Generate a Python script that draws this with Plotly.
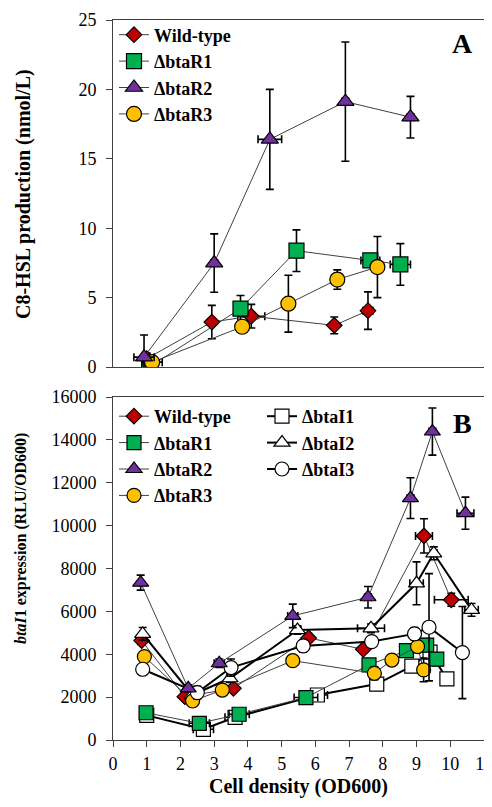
import plotly.graph_objects as go

# ---------------- Panel A data: C8-HSL production (nmol/L) ----------------
A_wt_x = [1.0, 2.93, 4.1, 6.56, 7.56]
A_wt_y = [0.6, 3.24, 3.66, 3.0, 4.06]
A_wt_ey = [0.4, 1.2, 0.85, 0.6, 1.35]
A_wt_ex = [0.1, 0.1, 0.4, 0.1, 0.15]

A_r1_x = [1.07, 3.78, 5.44, 7.63, 8.52]
A_r1_y = [0.0, 4.2, 8.38, 7.68, 7.39]
A_r1_ey = [0.3, 0.95, 1.5, 0.3, 1.5]
A_r1_ex = [0.1, 0.1, 0.1, 0.28, 0.3]

A_r2_x = [0.92, 3.0, 4.65, 6.89, 8.82]
A_r2_y = [0.71, 7.49, 16.4, 19.12, 18.0]
A_r2_ey = [1.6, 2.1, 3.6, 4.3, 1.5]
A_r2_ex = [0.3, 0.1, 0.35, 0.1, 0.1]

A_r3_x = [1.16, 3.83, 5.2, 6.65, 7.84]
A_r3_y = [0.35, 2.9, 4.56, 6.3, 7.2]
A_r3_ey = [0.3, 0.3, 2.05, 0.7, 2.2]
A_r3_ex = [0.3, 0.1, 0.1, 0.1, 0.1]

# ---------------- Panel B data: btaI1 expression (RLU/OD600) ----------------
B_wt_x = [0.85, 2.13, 3.57, 5.8, 7.42, 9.22, 10.03]
B_wt_y = [4640, 2020, 2410, 4760, 4230, 9520, 6540]
B_wt_ey = [200, 150, 150, 200, 150, 800, 300]
B_wt_ex = [0.05, 0.05, 0.1, 0.1, 0.1, 0.25, 0.5]

B_r1_x = [0.98, 2.56, 3.74, 5.72, 7.59, 8.7, 9.3, 9.6]
B_r1_y = [1270, 780, 1200, 1980, 3500, 4170, 4430, 3770]
B_r1_ey = [100, 100, 100, 150, 200, 200, 300, 300]
B_r1_ex = [0.05, 0.3, 0.3, 0.35, 0.1, 0.1, 0.1, 0.1]

B_r2_x = [0.82, 2.23, 3.15, 5.33, 7.56, 8.82, 9.47, 10.45]
B_r2_y = [7340, 2410, 3580, 5790, 6660, 11280, 14390, 10580]
B_r2_ey = [350, 150, 200, 550, 500, 950, 1100, 750]
B_r2_ex = [0.05, 0.1, 0.15, 0.15, 0.1, 0.1, 0.1, 0.25]

B_r3_x = [0.93, 2.36, 3.24, 5.33, 7.75, 8.27, 9.03, 9.21]
B_r3_y = [3890, 1820, 2330, 3700, 3110, 3730, 4360, 3270]
B_r3_ey = [150, 150, 150, 150, 300, 150, 200, 550]
B_r3_ex = [0.05, 0.1, 0.1, 0.1, 0.1, 0.1, 0.1, 0.1]

B_i1_x = [1.0, 2.68, 3.62, 6.06, 7.82, 8.86, 9.4, 9.9]
B_i1_y = [1150, 500, 1060, 2100, 2610, 3450, 4100, 2850]
B_i1_ey = [100, 150, 150, 200, 150, 200, 300, 150]
B_i1_ex = [0.05, 0.3, 0.3, 0.3, 0.1, 0.1, 0.1, 0.1]

B_i2_x = [0.88, 2.35, 3.47, 5.47, 7.65, 9.0, 9.51, 10.63]
B_i2_y = [4950, 2100, 2880, 5130, 5210, 7310, 8710, 6070]
B_i2_ey = [300, 150, 200, 200, 200, 1000, 300, 300]
B_i2_ex = [0.05, 0.1, 0.1, 0.1, 0.4, 0.2, 0.1, 0.2]

B_i3_x = [0.88, 2.5, 3.5, 5.64, 7.67, 8.94, 9.37, 10.36]
B_i3_y = [3300, 2210, 3380, 4390, 4590, 4950, 5260, 4080]
B_i3_ey = [150, 300, 400, 300, 200, 300, 2500, 2150]
B_i3_ex = [0.05, 0.1, 0.1, 0.1, 0.1, 0.1, 0.1, 0.1]

NAMES = ["Wild-type", "\u0394btaR1", "\u0394btaR2", "\u0394btaR3",
         "\u0394btaI1", "\u0394btaI2", "\u0394btaI3"]

RED = "#C00000"
GREEN = "#00B050"
PURPLE = "#7030A0"
YELLOW = "#FFC000"
WHITE = "#FFFFFF"

FONT = "Liberation Serif"

# figure geometry (the page body adds an 8px offset, so the figure is 8px smaller)
W, H = 484, 799
ML, MR, MT, MB = 105, 8, 12, 67
PLOT_BOTTOM = H - MB          # 732
PLOT_H = H - MT - MB


def py(page_y):
    """paper fraction for a page pixel row"""
    return (PLOT_BOTTOM - (page_y - 8)) / PLOT_H


def px(page_x):
    """paper fraction for a page pixel column"""
    return ((page_x - 8) - ML) / (W - ML - MR)


fig = go.Figure()


def add(x, y, ex, ey, name, symbol, color, size, xa, ya, legend, show,
        lw=1, lc="#404040", rank=1):
    fig.add_trace(go.Scatter(
        x=x, y=y, name=name, mode="lines+markers",
        xaxis=xa, yaxis=ya, legend=legend, showlegend=show, legendrank=rank,
        line=dict(color=lc, width=lw),
        marker=dict(symbol=symbol, color=color, size=size,
                    line=dict(color="#000000", width=1.2)),
        error_y=dict(type="data", array=ey, visible=True, color="#000000",
                     thickness=1.6, width=4),
        error_x=dict(type="data", array=ex, visible=True, color="#000000",
                     thickness=1.6, width=4),
    ))


# Panel A
add(A_wt_x, A_wt_y, A_wt_ex, A_wt_ey, NAMES[0], "diamond", RED, 12, "x", "y", "legend", True, rank=1)
add(A_r1_x, A_r1_y, A_r1_ex, A_r1_ey, NAMES[1], "square", GREEN, 15, "x", "y", "legend", True, rank=2)
add(A_r3_x, A_r3_y, A_r3_ex, A_r3_ey, NAMES[3], "circle", YELLOW, 15, "x", "y", "legend", True, rank=4)
add(A_r2_x, A_r2_y, A_r2_ex, A_r2_ey, NAMES[2], "triangle-up", PURPLE, 15, "x", "y", "legend", True, rank=3)

# Panel B
add(B_i1_x, B_i1_y, B_i1_ex, B_i1_ey, NAMES[4], "square", WHITE, 14, "x2", "y2", "legend3", True, lw=2, lc="#000000", rank=1)
add(B_r1_x, B_r1_y, B_r1_ex, B_r1_ey, NAMES[1], "square", GREEN, 14, "x2", "y2", "legend2", True, rank=2)
add(B_wt_x, B_wt_y, B_wt_ex, B_wt_ey, NAMES[0], "diamond", RED, 12, "x2", "y2", "legend2", True, rank=1)
add(B_i2_x, B_i2_y, B_i2_ex, B_i2_ey, NAMES[5], "triangle-up", WHITE, 14, "x2", "y2", "legend3", True, lw=2, lc="#000000", rank=2)
add(B_r3_x, B_r3_y, B_r3_ex, B_r3_ey, NAMES[3], "circle", YELLOW, 14, "x2", "y2", "legend2", True, rank=4)
add(B_i3_x, B_i3_y, B_i3_ex, B_i3_ey, NAMES[6], "circle", WHITE, 14, "x2", "y2", "legend3", True, lw=2, lc="#000000", rank=3)
add(B_r2_x, B_r2_y, B_r2_ex, B_r2_ey, NAMES[2], "triangle-up", PURPLE, 14, "x2", "y2", "legend2", True, rank=3)

axis_common = dict(showline=True, mirror=True, linecolor="#404040", linewidth=1,
                   showgrid=False, zeroline=False, automargin=False,
                   tickfont=dict(family=FONT, size=18, color="#000000"),
                   tickcolor="#404040", ticklen=6, ticks="outside",
                   ticklabelstandoff=6, ticklabeloverflow="allow")
legend_font = dict(family=FONT, size=18, color="#000000", weight="bold")

fig.update_layout(
    width=W, height=H,
    margin=dict(l=ML, r=MR, t=MT, b=MB, autoexpand=False),
    plot_bgcolor="#FFFFFF", paper_bgcolor="#FFFFFF",
    xaxis=dict(axis_common, domain=[0, 1], range=[0, 11], anchor="y",
               showticklabels=False, ticks=""),
    yaxis=dict(axis_common, domain=[py(367), 1], range=[0, 25], dtick=5, anchor="x"),
    xaxis2=dict(axis_common, domain=[0, 1], range=[0, 11], dtick=1, anchor="y2",
                ticklabelstandoff=1),
    yaxis2=dict(axis_common, domain=[0, py(397)], range=[0, 16000], dtick=2000,
                tickformat="d", anchor="x2"),
    legend=dict(x=px(114), y=py(16.5), xanchor="left", yanchor="top", font=legend_font,
                bgcolor="rgba(0,0,0,0)", tracegroupgap=0, itemwidth=30),
    legend2=dict(x=px(114), y=py(398), xanchor="left", yanchor="top", font=legend_font,
                 bgcolor="rgba(0,0,0,0)", tracegroupgap=0, itemwidth=30),
    legend3=dict(x=px(262), y=py(398), xanchor="left", yanchor="top", font=legend_font,
                 bgcolor="rgba(0,0,0,0)", tracegroupgap=0, itemwidth=30),
    annotations=[
        dict(text="A", x=px(462), y=py(43), xref="paper", yref="paper", showarrow=False,
             xanchor="center", yanchor="middle",
             font=dict(family=FONT, size=28, color="#000000", weight="bold")),
        dict(text="B", x=px(462), y=py(423), xref="paper", yref="paper", showarrow=False,
             xanchor="center", yanchor="middle",
             font=dict(family=FONT, size=28, color="#000000", weight="bold")),
        dict(text="C8-HSL production (nmol/L)", textangle=-90,
             x=px(23), y=py(194), xref="paper", yref="paper",
             showarrow=False, xanchor="center", yanchor="middle",
             font=dict(family=FONT, size=20, color="#000000", weight="bold")),
        dict(text="<i>btaI</i>1 expression (RLU/OD600)", textangle=-90,
             x=px(21), y=py(539), xref="paper", yref="paper",
             showarrow=False, xanchor="center", yanchor="middle",
             font=dict(family=FONT, size=16, color="#000000", weight="bold")),
        dict(text="Cell density (OD600)",
             x=0.5, y=py(786), xref="paper", yref="paper", showarrow=False,
             xanchor="center", yanchor="middle",
             font=dict(family=FONT, size=20, color="#000000", weight="bold")),
    ],
)

fig.write_html("out.html")
